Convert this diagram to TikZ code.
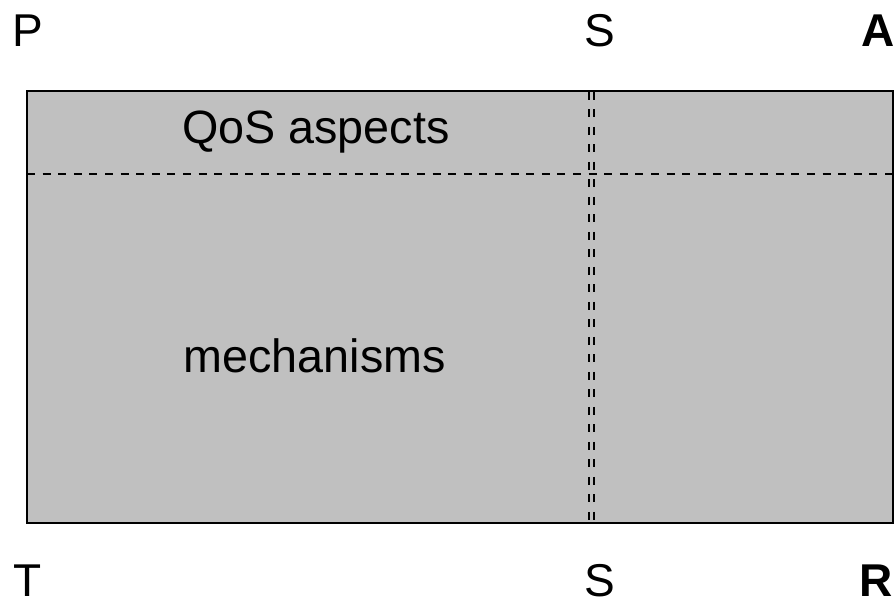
\documentclass[tikz,border=0pt]{standalone}
\usepackage{fontspec}
\setmainfont{Liberation Sans}
\begin{document}
\begin{tikzpicture}[x=1pt,y=-1pt,
  lbl/.style={inner sep=0pt,anchor=base west,font=\fontsize{46}{46}\selectfont},
  inlbl/.style={lbl,font=\fontsize{46.7}{46.7}\selectfont},
  blbl/.style={lbl,font=\fontsize{46}{46}\selectfont\bfseries},
  panel/.style={draw=black,line width=2pt,fill={rgb,255:red,192;green,192;blue,192}},
  hsplit/.style={line width=2pt,dash pattern=on 8pt off 7.6pt},
  vsplit/.style={line width=1.8pt,dash pattern=on 8pt off 9.5pt}]
\useasboundingbox (0,0) rectangle (895,601);
% main panel
\draw[panel] (27,91) rectangle (893,523);
\coordinate (hl) at (27,174);
\coordinate (hr) at (893,174);
\coordinate (v1t) at (589,92);
\coordinate (v1b) at (589,522);
\coordinate (v2t) at (594,92);
\coordinate (v2b) at (594,522);
\draw[hsplit] (hl) -- (hr);
\draw[vsplit] (v1t) -- (v1b);
\draw[vsplit] (v2t) -- (v2b);
% inner labels
\node[inlbl] (qos) at (182,144) {QoS aspects};
\node[inlbl] (mech) at (183.5,373) {mechanisms};
% corner labels
\node[lbl] (p) at (12.5,47) {P};
\node[lbl] (s1) at (584,47) {S};
\node[blbl] (a) at (861,47) {A};
\node[lbl] (t) at (13,596) {T};
\node[lbl] (s2) at (584,596) {S};
\node[blbl] (r) at (859.5,596) {R};
\end{tikzpicture}
\end{document}
